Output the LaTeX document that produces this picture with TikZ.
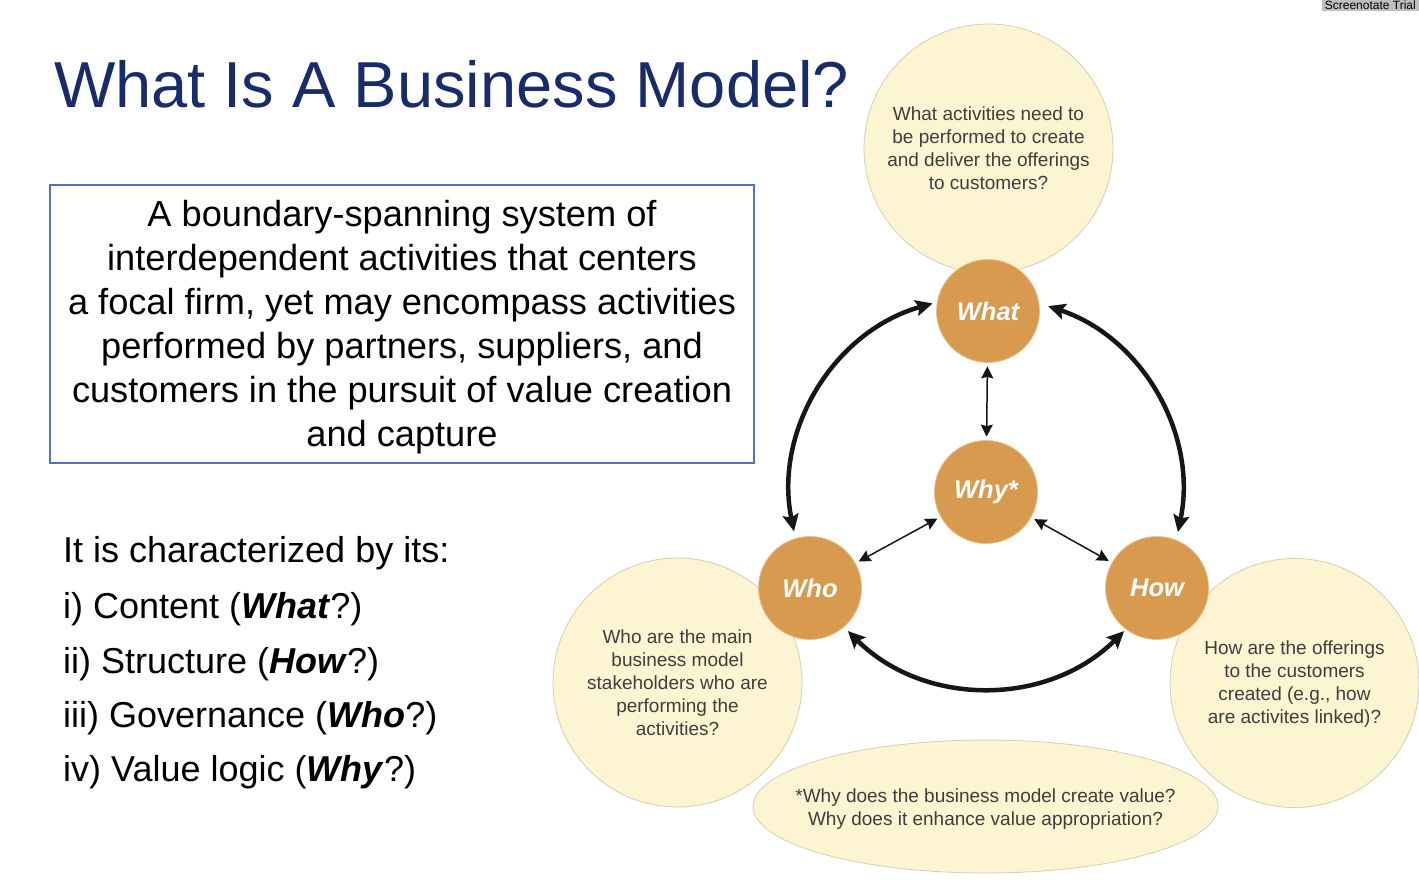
\documentclass[tikz,border=0pt]{standalone}
\usepackage{fontspec}
\setmainfont{Liberation Sans}
\usetikzlibrary{arrows.meta,shapes.geometric}

\definecolor{navy}{RGB}{24,44,108}
\definecolor{boxblue}{RGB}{84,112,192}
\definecolor{cream}{RGB}{253,244,210}
\definecolor{creamline}{RGB}{214,206,182}
\definecolor{ochre}{RGB}{216,154,78}
\definecolor{ochreline}{RGB}{232,192,136}
\definecolor{qtext}{RGB}{62,62,62}
\definecolor{ink}{RGB}{22,22,22}

\begin{document}
\begin{tikzpicture}[x=1pt,y=-1pt,
  bigq/.style={circle, fill=cream, draw=creamline, line width=0.8pt,
    minimum size=249pt, inner sep=0pt},
  qtxt/.style={align=center, text=qtext, inner sep=0pt,
    font=\fontsize{19}{23}\selectfont},
  hub/.style={circle, fill=ochre, draw=ochreline, line width=0.8pt,
    minimum size=103pt, inner sep=0pt, text=white,
    font=\fontsize{25.5}{28}\selectfont\bfseries\itshape},
  bigarrow/.style={line width=4.5pt, draw=ink, {Stealth[length=17pt,width=16pt,inset=3pt]}-{Stealth[length=17pt,width=16pt,inset=3pt]}},
  thinarrow/.style={line width=1.5pt, draw=ink, {Stealth[length=12pt,width=12pt,inset=1.5pt]}-{Stealth[length=12pt,width=12pt,inset=1.5pt]},
    shorten <=3.5pt, shorten >=3.5pt},
  listline/.style={anchor=base west, inner sep=0pt,
    font=\fontsize{36}{44}\selectfont}
]
% page
\fill[white] (0,0) rectangle (1419,879);
\useasboundingbox (0,0) rectangle (1419,879);

% heading
\node[anchor=base west, inner sep=0pt, text=navy,
  font=\fontsize{65}{70}\selectfont] (title) at (54,107)
  {What Is A Business Model?};

% definition box
\node[draw=boxblue, line width=2pt, minimum width=704pt, minimum height=278pt,
  inner sep=0pt] (defbox) at (402,324) {};
\node[align=center, inner sep=0pt, font=\fontsize{36.2}{44}\selectfont]
  (deftext) at (402,327)
  {A boundary-spanning system of\\
   interdependent activities that centers\\
   a focal firm, yet may encompass activities\\
   performed by partners, suppliers, and\\
   customers in the pursuit of value creation\\
   and capture};

% characteristics list
\node[listline] (l0) at (63,562) {It is characterized by its:};
\node[listline] (l1) at (63,618) {i) Content (\textbf{\textit{What}}?)};
\node[listline] (l2) at (63,673) {ii) Structure (\textbf{\textit{How}}?)};
\node[listline] (l3) at (63,727) {iii) Governance (\textbf{\textit{Who}}?)};
\node[listline] (l4) at (63,781) {iv) Value logic (\textbf{\textit{Why}}?)};

% question bubbles
\node[bigq] (whatq) at (988.5,148.5) {};
\node[qtxt] at (whatq.center) {What activities need to\\be performed to create\\and deliver the offerings\\to customers?};
\node[bigq] (whoq) at (677.5,682.5) {};
\node[qtxt] at (whoq.center) {Who are the main\\business model\\stakeholders who are\\performing the\\activities?};
\node[bigq] (howq) at (1294.5,683) {};
\node[qtxt] at ([yshift=-1pt]howq.center) {How are the offerings\\to the customers\\created (e.g., how\\are activites linked)?};
\node[ellipse, fill=cream, draw=creamline, line width=0.8pt,
  minimum width=465pt, minimum height=133pt, inner sep=0pt] (whyq) at (985.5,806.5) {};
\node[qtxt] at ([yshift=-3pt]whyq.center) {*Why does the business model create value?\\Why does it enhance value appropriation?};

% hub circles
\node[hub] (what) at (988,311) {What};
\node[hub] (why) at (986,492) {Why*};
\node[hub] (who) at (810,588) {Who};
\node[hub] (how) at (1157,588) {How};

% links to the centre
\draw[thinarrow] (what) -- (why);
\draw[thinarrow] (why) -- (who);
\draw[thinarrow] (why) -- (how);

% outer ring of arrows around the centre
\draw[bigarrow] ([shift={(105.8:196pt)}]why.center)
  arc[start angle=105.8, end angle=191.6, radius=196pt];
\draw[bigarrow] ([shift={(71.5:196pt)}]why.center)
  arc[start angle=71.5, end angle=-11.8, radius=196pt];
\draw[bigarrow] ([shift={(225.2:196pt)}]why.center)
  arc[start angle=225.2, end angle=314.8, radius=196pt];

% watermark tag
\node[anchor=north east, fill=black!25, inner xsep=3pt, inner ysep=1pt,
  font=\fontsize{12}{12}\selectfont] (tag) at (1419,0) {Screenotate Trial};
\end{tikzpicture}
\end{document}
